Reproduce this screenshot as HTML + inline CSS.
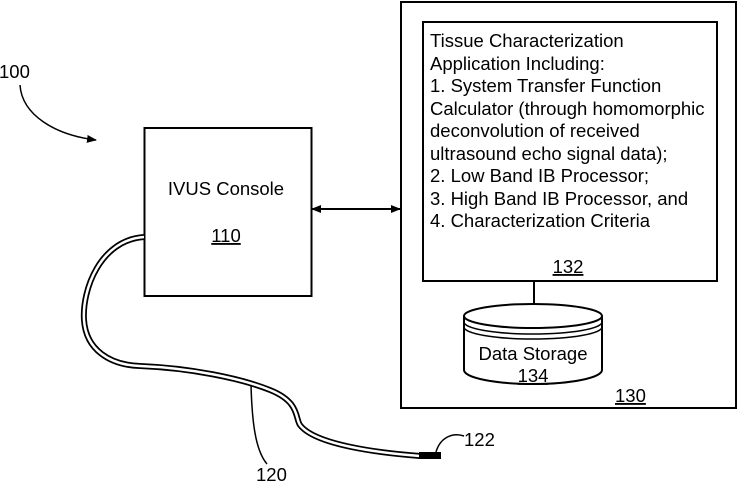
<!DOCTYPE html>
<html><head><style>
body{margin:0;background:#fff;}
svg text{font-family:"Liberation Sans",Arial,sans-serif;fill:#000;}
</style></head><body>
<svg width="738" height="481" viewBox="0 0 738 481" xmlns="http://www.w3.org/2000/svg">
<defs>
<marker id="ah" markerWidth="10" markerHeight="8" refX="9" refY="4" orient="auto" markerUnits="userSpaceOnUse">
<path d="M0,0 L10,4 L0,8 Z" fill="#000"/></marker>
<marker id="ahs" markerWidth="10" markerHeight="8" refX="1" refY="4" orient="auto" markerUnits="userSpaceOnUse">
<path d="M10,0 L0,4 L10,8 Z" fill="#000"/></marker>
</defs>
<text x="-1" y="78" font-size="18.5">100</text>
<path d="M20,85 C22,115 55,135 96,140" fill="none" stroke="#000" stroke-width="1.5" marker-end="url(#ah)"/>
<rect x="144.5" y="128" width="167" height="168" fill="none" stroke="#000" stroke-width="2"/>
<text x="226" y="195" font-size="18.5" text-anchor="middle">IVUS Console</text>
<text x="226" y="242" font-size="18.5" text-anchor="middle" text-decoration="underline">110</text>
<line x1="312" y1="209" x2="400" y2="209" stroke="#000" stroke-width="2" marker-start="url(#ahs)" marker-end="url(#ah)"/>
<rect x="401" y="2" width="335" height="406" fill="none" stroke="#000" stroke-width="2"/>
<rect x="423" y="22" width="294" height="259" fill="none" stroke="#000" stroke-width="2"/>
<g font-size="18.5">
<text x="430" y="47">Tissue Characterization</text>
<text x="430" y="70">Application Including:</text>
<text x="430" y="92">1. System Transfer Function</text>
<text x="430" y="115">Calculator (through homomorphic</text>
<text x="430" y="137">deconvolution of received</text>
<text x="430" y="160">ultrasound echo signal data);</text>
<text x="430" y="182">2. Low Band IB Processor;</text>
<text x="430" y="205">3. High Band IB Processor, and</text>
<text x="430" y="227">4. Characterization Criteria</text>
<text x="568" y="273" text-anchor="middle" text-decoration="underline">132</text>
</g>
<line x1="534" y1="281" x2="534" y2="306" stroke="#000" stroke-width="2"/>
<path d="M464,316 L464,370 A69,14 0 0 0 602,370 L602,316" fill="#fff" stroke="#000" stroke-width="2"/>
<ellipse cx="533" cy="316" rx="69" ry="12" fill="#fff" stroke="#000" stroke-width="2"/>
<path d="M464,322 A69,12 0 0 0 602,322 M464,327 A69,12 0 0 0 602,327" fill="none" stroke="#000" stroke-width="1.5"/>
<text x="533" y="360" font-size="18.5" text-anchor="middle">Data Storage</text>
<text x="533" y="382" font-size="18.5" text-anchor="middle" text-decoration="underline">134</text>
<text x="615" y="402" font-size="18.5" text-decoration="underline">130</text>
<path d="M144,237 C100,240 82,290 84,320 C86,350 110,365 140,366 C190,368 240,378 270,390 C300,402 295,418 300,425 C315,445 380,453 420,456" fill="none" stroke="#000" stroke-width="6"/>
<path d="M144,237 C100,240 82,290 84,320 C86,350 110,365 140,366 C190,368 240,378 270,390 C300,402 295,418 300,425 C315,445 380,453 420,456" fill="none" stroke="#fff" stroke-width="2.5"/>
<rect x="419" y="452" width="22" height="7" fill="#000"/>
<path d="M251,385 C252,420 255,450 267,464" fill="none" stroke="#000" stroke-width="1.5"/>
<text x="256" y="481" font-size="18.5">120</text>
<path d="M436,452 C440,438 452,432 464,436" fill="none" stroke="#000" stroke-width="1.5"/>
<text x="464" y="446" font-size="18.5">122</text>
</svg>
</body></html>
